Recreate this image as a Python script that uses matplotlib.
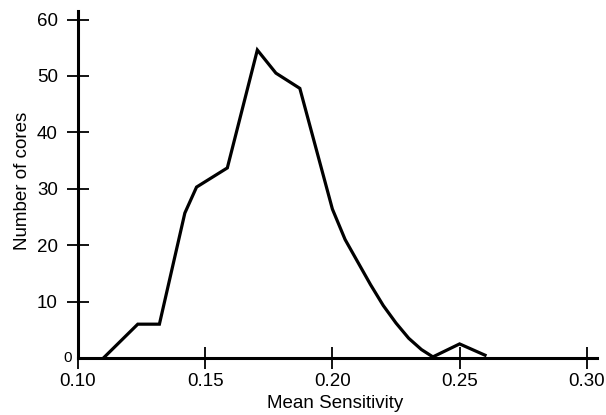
import matplotlib
matplotlib.use("Agg")
import matplotlib.pyplot as plt

# values
sensitivity = [0.110, 0.1235, 0.132, 0.142, 0.1466, 0.1587, 0.1705, 0.1778, 0.1872,
               0.200, 0.205, 0.210, 0.215, 0.220, 0.225, 0.230, 0.235, 0.2395,
               0.250, 0.260]
cores = [0, 6, 6, 25.7, 30.3, 33.7, 54.6, 50.5, 47.8,
         26.4, 21, 17, 13, 9.3, 6.2, 3.5, 1.5, 0.2,
         2.5, 0.5]
xticks = [0.10, 0.15, 0.20, 0.25, 0.30]
xticklabels = ["0.10", "0.15", "0.20", "0.25", "0.30"]
yticks = [10, 20, 30, 40, 50, 60]

plt.rcParams['font.family'] = ['Liberation Sans', 'DejaVu Sans']

fig = plt.figure(figsize=(6.06, 4.15), dpi=100)
ax = fig.add_axes([0.1287, 0.1373, 0.8564, 0.836])

ax.plot(sensitivity, cores, color='black', lw=2.3, solid_joinstyle='miter')

ax.set_xlim(0.10, 0.304)
ax.set_ylim(0, 61.5)

for side in ['top', 'right']:
    ax.spines[side].set_visible(False)
for side in ['left', 'bottom']:
    ax.spines[side].set_linewidth(2.2)

ax.set_xticks(xticks)
ax.set_xticklabels(xticklabels)
ax.set_yticks(yticks)
ax.tick_params(axis='both', direction='inout', length=16, width=1.3, labelsize=13.5)
ax.tick_params(axis='y', pad=6.5)
ax.tick_params(axis='x', pad=3)
ax.text(-0.012, 0, "0", transform=ax.get_yaxis_transform(), ha='right', va='center',
        fontsize=11)

ax.set_xlabel("Mean Sensitivity", fontsize=13.5)
ax.set_ylabel("Number of cores", fontsize=13.5)
ax.xaxis.set_label_coords(0.495, -0.107)
ax.yaxis.set_label_coords(-0.090, 0.51)

fig.savefig("out.png", dpi=100)
